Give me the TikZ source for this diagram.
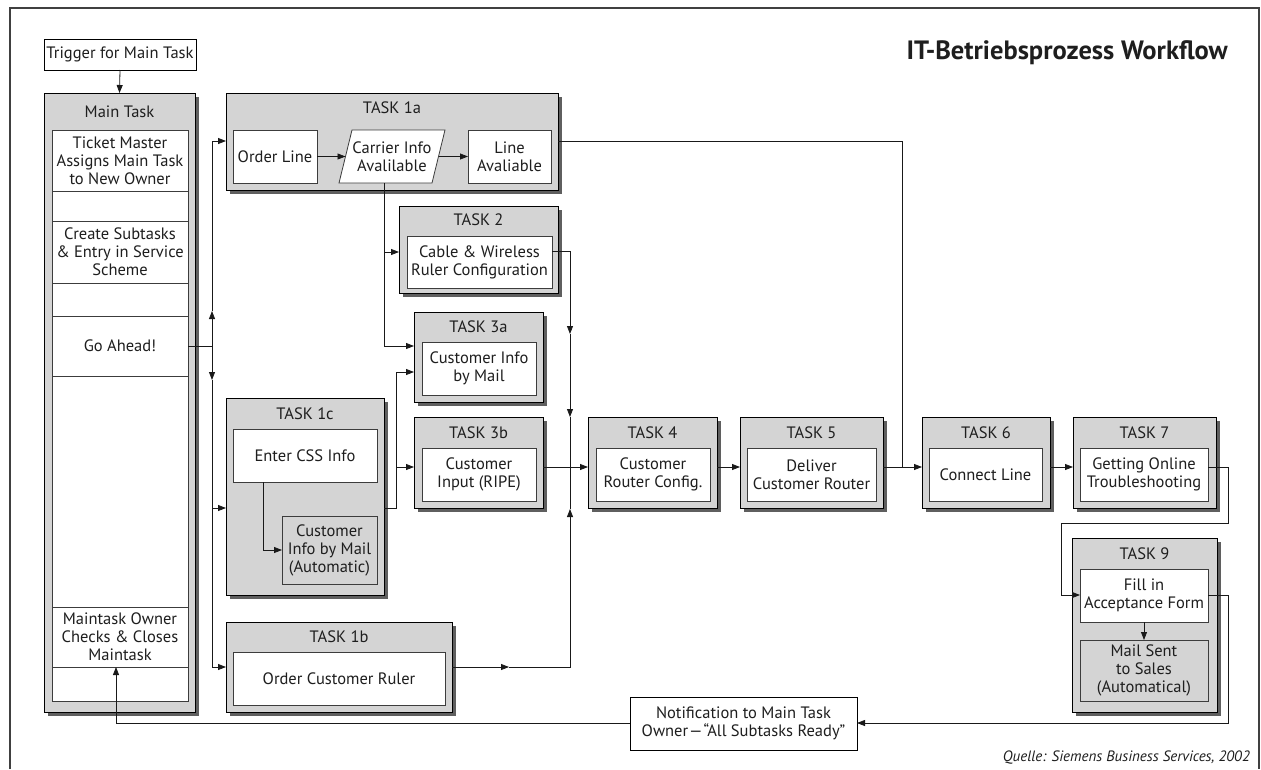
\documentclass[tikz,border=0pt]{standalone}
\usepackage{fontspec}
\setmainfont{PT Sans}
\usetikzlibrary{arrows.meta,shadows}
\definecolor{taskgray}{RGB}{212,212,212}
\definecolor{shadowgray}{RGB}{95,95,95}
\definecolor{innerline}{RGB}{60,60,60}
\definecolor{txt}{RGB}{30,30,30}
\newcommand\msz{\fontsize{16.5}{18}\selectfont}
\begin{document}
\begin{tikzpicture}[x=1pt,y=-1pt,
  taskbox/.style={draw=black, line width=0.9pt, fill=taskgray, inner sep=0pt, outer sep=0pt,
    drop shadow={shadow xshift=4pt, shadow yshift=-4pt, fill=shadowgray, opacity=1}},
  inbox/.style={draw=innerline, line width=0.8pt, fill=white, inner sep=0pt, outer sep=0pt,
    align=center, font=\msz, text=txt},
  graybox/.style={inbox, fill=taskgray},
  plainbox/.style={draw=black, line width=0.8pt, fill=white, inner sep=0pt, outer sep=0pt,
    align=center, font=\msz, text=txt},
  ttl/.style={font=\msz, inner sep=0pt, text=txt},
  conn/.style={draw=black!90, line width=0.8pt},
  arr/.style={conn, -{Triangle[length=8pt,width=6pt]}}]
\useasboundingbox (0,0) rectangle (1261,769);
% frame
\draw[line width=1.2pt, black!75] (10,769) -- (10,8) -- (1259,8) -- (1259,769);
% title
\node[inner sep=0pt, anchor=east, font=\fontsize{26.5}{30}\selectfont\bfseries, text=txt] (title) at (1228,53) {IT-Betriebsprozess Workflow};
\node[inner sep=0pt, anchor=east, font=\fontsize{15}{17}\selectfont\itshape, text=txt] (src) at (1250,758) {Quelle: Siemens Business Services, 2002};

% trigger and main task
\node[plainbox, minimum width=152pt, minimum height=31pt] (trig) at (120,54.5) {Trigger for Main Task};
\node[taskbox, minimum width=151pt, minimum height=619pt] (main) at (119.5,402.5) {};
\node[ttl] (mainT) at (119.5,112) {Main Task};
\node[inbox, minimum width=136pt, minimum height=571pt] (mcol) at (120,415.5) {};
\node[inbox, minimum width=136pt, minimum height=61pt] (ticket) at (120,160.5) {Ticket Master\\Assigns Main Task\\to New Owner};
\node[inbox, minimum width=136pt, minimum height=62pt] (create) at (120,252) {Create Subtasks\\\& Entry in Service\\Scheme};
\node[inbox, minimum width=136pt, minimum height=60pt] (goahead) at (120,346) {Go Ahead!};
\node[inbox, minimum width=136pt, minimum height=60pt] (closes) at (120,637) {Maintask Owner\\Checks \& Closes\\Maintask};

% TASK 1a
\node[taskbox, minimum width=332pt, minimum height=97pt] (t1a) at (392,141.5) {};
\node[ttl] (t1aT) at (392,108) {TASK 1a};
\node[inbox, minimum width=84pt, minimum height=53pt] (order) at (275,156.5) {Order Line};
\draw[draw=innerline, line width=0.8pt, fill=white] (352,130) -- (445,130) -- (432,183) -- (339,183) -- cycle;
\node[ttl, align=center] (carrier) at (392,156.5) {Carrier Info\\Avalilable};
\node[inbox, minimum width=83pt, minimum height=53pt] (lineav) at (509.5,156.5) {Line\\Avaliable};

% TASK 2
\node[taskbox, minimum width=159pt, minimum height=87pt] (t2) at (478.5,249.5) {};
\node[ttl] (t2T) at (478.5,220) {TASK 2};
\node[inbox, minimum width=145pt, minimum height=52pt] (cable) at (479.5,262) {Cable \& Wireless\\Ruler Configuration};

% TASK 3a
\node[taskbox, minimum width=129pt, minimum height=90pt] (t3a) at (478.5,357) {};
\node[ttl] (t3aT) at (478.5,327) {TASK 3a};
\node[inbox, minimum width=114pt, minimum height=53pt] (cinfo) at (479,368.5) {Customer Info\\by Mail};

% TASK 3b
\node[taskbox, minimum width=129pt, minimum height=91pt] (t3b) at (478.5,462.5) {};
\node[ttl] (t3bT) at (478.5,433) {TASK 3b};
\node[inbox, minimum width=114pt, minimum height=53pt] (ripe) at (479,474.5) {Customer\\Input (RIPE)};

% TASK 1c
\node[taskbox, minimum width=158pt, minimum height=197pt] (t1c) at (305,496.5) {};
\node[ttl] (t1cT) at (305,414) {TASK 1c};
\node[inbox, minimum width=144pt, minimum height=53pt] (css) at (305,455.5) {Enter CSS Info};
\node[graybox, minimum width=95pt, minimum height=68pt] (auto) at (329.5,550) {Customer\\Info by Mail\\(Automatic)};

% TASK 1b
\node[taskbox, minimum width=226pt, minimum height=90pt] (t1b) at (339,667) {};
\node[ttl] (t1bT) at (339,637) {TASK 1b};
\node[inbox, minimum width=212pt, minimum height=53pt] (ruler) at (339,678.5) {Order Customer Ruler};

% TASK 4 - 7
\node[taskbox, minimum width=129pt, minimum height=91pt] (t4) at (652.5,462.5) {};
\node[ttl] (t4T) at (652.5,433) {TASK 4};
\node[inbox, minimum width=114pt, minimum height=53pt] (rconf) at (653,474.5) {Customer\\Router Config.};
\node[taskbox, minimum width=143pt, minimum height=91pt] (t5) at (811.5,462.5) {};
\node[ttl] (t5T) at (811.5,433) {TASK 5};
\node[inbox, minimum width=129pt, minimum height=53pt] (deliver) at (811.5,474.5) {Deliver\\Customer Router};
\node[taskbox, minimum width=128pt, minimum height=91pt] (t6) at (986,462.5) {};
\node[ttl] (t6T) at (986,433) {TASK 6};
\node[inbox, minimum width=113pt, minimum height=53pt] (connect) at (985.5,474.5) {Connect Line};
\node[taskbox, minimum width=143pt, minimum height=91pt] (t7) at (1144.5,462.5) {};
\node[ttl] (t7T) at (1144.5,433) {TASK 7};
\node[inbox, minimum width=128pt, minimum height=53pt] (online) at (1144,474.5) {Getting Online\\Troubleshooting};

% TASK 9
\node[taskbox, minimum width=145pt, minimum height=174pt] (t9) at (1144.5,625) {};
\node[ttl] (t9T) at (1144.5,554) {TASK 9};
\node[inbox, minimum width=128pt, minimum height=53pt] (fill) at (1144,595.5) {Fill in\\Acceptance Form};
\node[graybox, minimum width=128pt, minimum height=61pt] (mail) at (1144,670.5) {Mail Sent\\to Sales\\(Automatical)};

% notification
\node[plainbox, minimum width=227pt, minimum height=53pt] (notif) at (743.5,723.5) {Notification to Main Task\\Owner\kern1pt—\kern1pt“All Subtasks Ready”};

% ---------- connectors ----------
\draw[arr] (trig.south) -- (main.north);
% Go Ahead distribution (x = 212)
\coordinate (g0) at (212,346);
\coordinate (gup) at (212,311);
\coordinate (gdn) at (212,380);
\coordinate (g1a) at (212,141);
\coordinate (e1a) at (226,141);
\coordinate (g1c) at (212,508);
\coordinate (e1c) at (226,508);
\coordinate (g1b) at (212,667);
\draw[conn] (goahead.east) -- (g0);
\draw[arr] (g0) -- (gup);
\draw[arr] (gup) -- (g1a) -- (e1a);
\draw[arr] (g0) -- (gdn);
\draw[arr] (gdn) -- (g1b) -- (t1b.west);
\draw[arr] (g1c) -- (e1c);
% inside TASK 1a
\coordinate (carL) at (345.5,156.5);
\coordinate (carR) at (438.5,156.5);
\draw[arr] (order.east) -- (carL);
\draw[arr] (carR) -- (lineav.west);
% carrier -> task 2, task 3a (x = 384)
\coordinate (cb) at (384,183);
\coordinate (c2) at (384,252);
\coordinate (e2) at (399,252);
\coordinate (c3) at (384,346);
\coordinate (e3) at (414,346);
\draw[arr] (cb) -- (c3) -- (e3);
\draw[arr] (c2) -- (e2);
% task 1c out (x = 396)
\coordinate (o1c) at (384,508);
\coordinate (k1) at (396,508);
\coordinate (k2) at (396,372);
\coordinate (e3a) at (414,372);
\coordinate (k3) at (396,467);
\coordinate (e3b) at (414,467);
\draw[arr] (o1c) -- (k1) -- (k2) -- (e3a);
\draw[arr] (k3) -- (e3b);
% inside task 1c
\coordinate (cssd) at (263,482);
\coordinate (cssc) at (263,550);
\draw[arr] (cssd) -- (cssc) -- (auto.west);
% collector line (x = 570)
\coordinate (o2) at (552,251);
\coordinate (m0) at (570,251);
\coordinate (m1) at (570,334);
\coordinate (m2) at (570,417);
\coordinate (mj) at (570,467);
\coordinate (o3b) at (543,467);
\coordinate (e4) at (588,467);
\draw[arr] (o2) -- (m0) -- (m1);
\draw[arr] (m1) -- (m2);
\draw[conn] (m2) -- (mj);
\draw[arr] (o3b) -- (e4);
\coordinate (o1b) at (452,667);
\coordinate (b1) at (509,667);
\coordinate (b2) at (570,667);
\coordinate (b3) at (570,509);
\draw[arr] (o1b) -- (b1);
\draw[arr] (b1) -- (b2) -- (b3);
\draw[conn] (b3) -- (mj);
% task chain
\coordinate (o4) at (717,467);
\coordinate (e5) at (740,467);
\draw[arr] (o4) -- (e5);
\coordinate (o5) at (883,467);
\coordinate (e6) at (922,467);
\draw[arr] (o5) -- (e6);
\coordinate (o1a) at (558,141);
\coordinate (r1) at (902,141);
\coordinate (r2) at (902,467);
\draw[conn] (o1a) -- (r1) -- (r2);
\coordinate (o6) at (1050,467);
\coordinate (e7) at (1073,467);
\draw[arr] (o6) -- (e7);
% task 7 -> task 9
\coordinate (o7) at (1208,467);
\coordinate (s1) at (1228,467);
\coordinate (s2) at (1228,523);
\coordinate (s3) at (1061,523);
\coordinate (s4) at (1061,595);
\coordinate (e9) at (1080,595);
\draw[arr] (o7) -- (s1) -- (s2) -- (s3) -- (s4) -- (e9);
\draw[arr] (fill.south) -- (mail.north);
% task 9 -> notification -> main task
\coordinate (o9) at (1208,595);
\coordinate (n1) at (1228,595);
\coordinate (n2) at (1228,723);
\coordinate (en) at (857,723);
\draw[arr] (o9) -- (n1) -- (n2) -- (en);
\coordinate (on) at (630,723);
\coordinate (n3) at (116,723);
\coordinate (n4) at (116,667);
\draw[arr] (on) -- (n3) -- (n4);
\end{tikzpicture}
\end{document}
